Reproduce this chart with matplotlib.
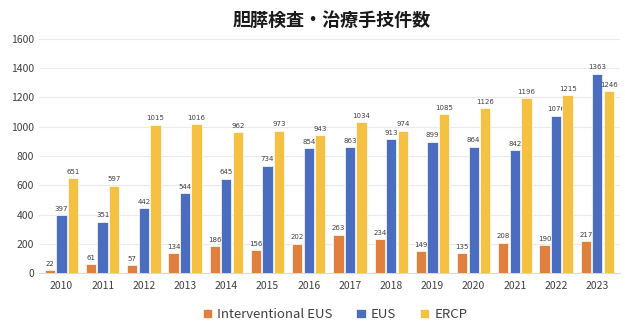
import matplotlib.pyplot as plt
import numpy as np

plt.rcParams['font.family'] = ['Noto Sans CJK JP', 'DejaVu Sans']

years = ['2010', '2011', '2012', '2013', '2014', '2015', '2016',
         '2017', '2018', '2019', '2020', '2021', '2022', '2023']
interventional_eus = [22, 61, 57, 134, 186, 156, 202, 263, 234, 149, 135, 208, 190, 217]
eus = [397, 351, 442, 544, 645, 734, 854, 863, 913, 899, 864, 842, 1076, 1363]
ercp = [651, 597, 1015, 1016, 962, 973, 943, 1034, 974, 1085, 1126, 1196, 1215, 1246]

series = [('Interventional EUS', interventional_eus, '#E0803F'),
          ('EUS', eus, '#4A6DBF'),
          ('ERCP', ercp, '#F4C142')]

fig = plt.figure(figsize=(6.25, 3.33), dpi=100)
ax = fig.add_axes([0.062, 0.18, 0.93, 0.703])

x = np.arange(len(years))
w = 0.25
for i, (name, vals, col) in enumerate(series):
    pos = x + (i - 1) * (w + 0.03)
    bars = ax.bar(pos, vals, w, color=col, label=name, edgecolor='white', linewidth=0.5, zorder=3)
    for b, v in zip(bars, vals):
        ax.text(b.get_x() + b.get_width() / 2, v + 22, str(v), ha='center', va='bottom',
                fontsize=5, color='#404040', family='DejaVu Sans')

ax.set_ylim(0, 1600)
ax.set_yticks(range(0, 1601, 200))
ax.set_xlim(-0.55, len(years) - 0.45)
ax.set_xticks(x)
ax.set_xticklabels(years)
ax.tick_params(axis='both', length=0, labelsize=7.5, colors='#404040')
ax.tick_params(axis='x', pad=6)
ax.grid(axis='y', color='#EBEBEB', linewidth=0.8, zorder=0)
for s in ['top', 'right', 'left']:
    ax.spines[s].set_visible(False)
ax.spines['bottom'].set_color('#D9D9D9')

fig.text(0.53, 0.94, '胆膵検査・治療手技件数', ha='center', va='center',
         fontsize=13, fontweight='bold', color='#1A1A1A')

ax.legend(loc='upper center', bbox_to_anchor=(0.51, -0.1), ncol=3, frameon=False,
          fontsize=9.5, handlelength=0.7, handleheight=0.7, columnspacing=1.8,
          handletextpad=0.4, labelcolor='#404040')

fig.savefig('out.png', dpi=100)
